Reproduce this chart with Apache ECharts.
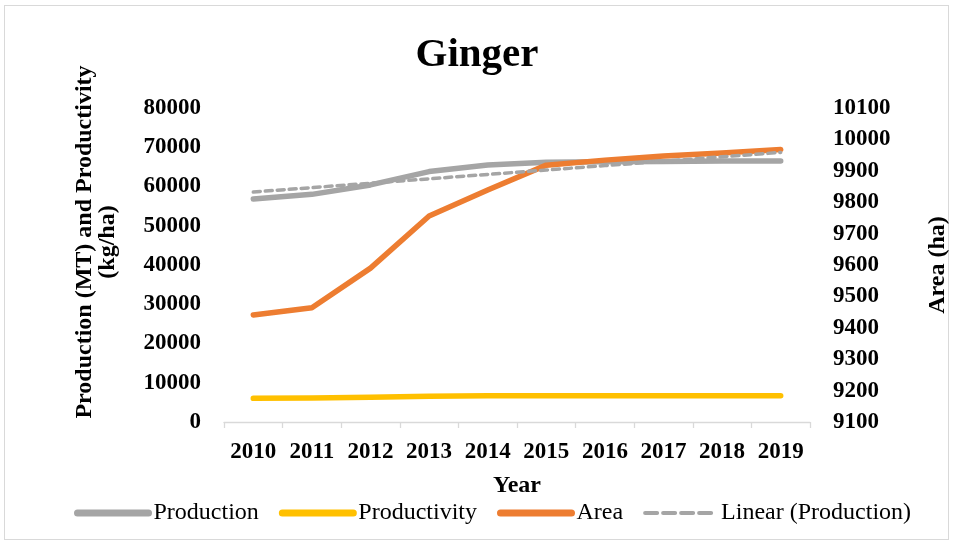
<!DOCTYPE html>
<html>
<head>
<meta charset="utf-8">
<script src="https://cdn.jsdelivr.net/npm/echarts@6/dist/echarts.min.js"></script>
<style>
html,body{margin:0;padding:0;background:#fff;}
#wrap{position:absolute;left:4px;top:5px;width:945px;height:535px;border:1px solid #d9d9d9;box-sizing:border-box;}
#chart{position:absolute;left:0;top:0;width:954px;height:546px;}
</style>
</head>
<body>
<div id="wrap"></div>
<div id="chart"></div>
<script>
const years = ['2010','2011','2012','2013','2014','2015','2016','2017','2018','2019'];
const production = [56800, 58000, 60400, 63800, 65500, 66200, 66300, 66400, 66500, 66500];
const productivity = [6020, 6130, 6300, 6540, 6660, 6680, 6670, 6660, 6660, 6670];
const area = [9441, 9464, 9590, 9756, 9839, 9918, 9934, 9947, 9957, 9968];
const leftTicks = [0, 80000, 10000];
const rightTicks = [9100, 10100, 100];

// Linear (least squares) trendline of production, as in the spreadsheet
function linearTrend(vals) {
  const n = vals.length;
  let sx = 0, sy = 0, sxx = 0, sxy = 0;
  vals.forEach((v, i) => { sx += i; sy += v; sxx += i * i; sxy += i * v; });
  const b = (n * sxy - sx * sy) / (n * sxx - sx * sx);
  const a = (sy - b * sx) / n;
  return vals.map((v, i) => +(a + b * i).toFixed(1));
}
const trend = linearTrend(production);

const serif = '"Liberation Serif", "Times New Roman", serif';
const chart = echarts.init(document.getElementById('chart'), null, {renderer: 'canvas'});
const labelStyle = {fontFamily: serif, fontWeight: 'bold', fontSize: 23, color: '#000', formatter: v => String(v)};

chart.setOption({
  animation: false,
  backgroundColor: 'transparent',
  title: {
    text: 'Ginger', left: 'center', top: 30,
    textStyle: {fontFamily: serif, fontWeight: 'bold', fontSize: 41, color: '#000'}
  },
  legend: {
    top: 496, left: 69,
    itemWidth: 71, itemHeight: 14, itemGap: 20,
    itemStyle: {opacity: 0},
    textStyle: {fontFamily: serif, fontSize: 24, color: '#000'},
    data: [
      {name: 'Production', lineStyle: {width: 7, cap: 'round'}},
      {name: 'Productivity', lineStyle: {width: 7, cap: 'round'}},
      {name: 'Area', lineStyle: {width: 7, cap: 'round'}},
      {name: 'Linear (Production)', lineStyle: {width: 4, type: [12, 6], cap: 'round'}}
    ]
  },
  grid: {left: 224, right: 144, top: 108, bottom: 124, containLabel: false, outerBoundsMode: 'none'},
  xAxis: {
    type: 'category', data: years, boundaryGap: true,
    name: 'Year', nameLocation: 'middle', nameGap: 52,
    nameTextStyle: {fontFamily: serif, fontWeight: 'bold', fontSize: 24, color: '#000'},
    axisLine: {lineStyle: {color: '#d9d9d9', width: 1.3}},
    axisTick: {show: true, interval: 0, alignWithLabel: false, length: 6, lineStyle: {color: '#d9d9d9', width: 1.3}},
    axisLabel: Object.assign({margin: 19, interval: 0}, labelStyle),
    splitLine: {show: false}
  },
  yAxis: [
    {
      type: 'value', min: leftTicks[0], max: leftTicks[1], interval: leftTicks[2],
      name: 'Production (MT) and Productivity\n(kg/ha)', nameLocation: 'middle', nameRotate: 90, nameGap: 105,
      nameTextStyle: {fontFamily: serif, fontWeight: 'bold', fontSize: 24, color: '#000', lineHeight: 23, padding: [0, 0, 0, 46]},
      axisLine: {show: false}, axisTick: {show: false}, splitLine: {show: false},
      axisLabel: Object.assign({margin: 23}, labelStyle)
    },
    {
      type: 'value', min: rightTicks[0], max: rightTicks[1], interval: rightTicks[2],
      name: 'Area (ha)', nameLocation: 'middle', nameRotate: 90, nameGap: 116,
      nameTextStyle: {fontFamily: serif, fontWeight: 'bold', fontSize: 24, color: '#000'},
      axisLine: {show: false}, axisTick: {show: false}, splitLine: {show: false},
      axisLabel: Object.assign({margin: 23}, labelStyle)
    }
  ],
  series: [
    {name: 'Production', type: 'line', yAxisIndex: 0, data: production, symbol: 'none',
     itemStyle: {color: '#a5a5a5'}, lineStyle: {color: '#a5a5a5', width: 5.5, cap: 'round', join: 'round'}},
    {name: 'Productivity', type: 'line', yAxisIndex: 0, data: productivity, symbol: 'none',
     itemStyle: {color: '#ffc000'}, lineStyle: {color: '#ffc000', width: 5.5, cap: 'round', join: 'round'}},
    {name: 'Area', type: 'line', yAxisIndex: 1, data: area, symbol: 'none',
     itemStyle: {color: '#ed7d31'}, lineStyle: {color: '#ed7d31', width: 5.5, cap: 'round', join: 'round'}},
    {name: 'Linear (Production)', type: 'line', yAxisIndex: 0, data: trend, symbol: 'none',
     itemStyle: {color: '#a5a5a5'}, lineStyle: {color: '#a5a5a5', width: 3.5, type: [7, 5], cap: 'round'}}
  ]
});
</script>
</body>
</html>
